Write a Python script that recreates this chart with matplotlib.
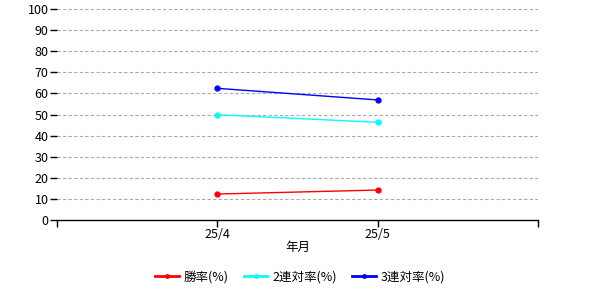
import matplotlib
matplotlib.use("Agg")
import matplotlib.pyplot as plt
from matplotlib.lines import Line2D

plt.rcParams['font.family'] = ['Noto Sans CJK JP', 'DejaVu Sans']

months = ['25/4', '25/5']
win_rate = [12.3, 14.2]
top2_rate = [49.9, 46.3]
top3_rate = [62.4, 56.9]
series_names = ['勝率(%)', '2連対率(%)', '3連対率(%)']
colors = ['#ff0000', '#00ffff', '#0000ff']

fig = plt.figure(figsize=(6, 3), dpi=100)
ax = fig.add_axes([57/600, 80/300, 481/600, 211/300])

xs = [1, 2]
for vals, name, c in zip([win_rate, top2_rate, top3_rate], series_names, colors):
    ax.plot(xs, vals, color=c, lw=1, marker='o', ms=3.5, label=name)

ax.set_xlim(0, 3)
ax.set_ylim(0, 100)
ax.set_yticks(range(0, 101, 10))
ax.set_xticks([0, 1, 2, 3])
ax.set_xticklabels([''] + months + [''])
for y in range(10, 101, 10):
    ax.axhline(y, color='#aaaaaa', lw=0.8, ls=(0, (3, 2)), zorder=0)

for s in ['top', 'right', 'left']:
    ax.spines[s].set_visible(False)
ax.spines['bottom'].set_linewidth(1)
ax.tick_params(axis='both', labelsize=9, length=5, width=1, colors='black', pad=1)
ax.set_xlabel('年月', fontsize=9, labelpad=0)

handles = [Line2D([], [], color=c, lw=2, marker='o', ms=2.5) for c in colors]
fig.legend(handles, series_names, loc='center', bbox_to_anchor=(0.5, 23/300), ncol=3, frameon=False,
           fontsize=9, handlelength=1.9, handletextpad=0.4, columnspacing=1.2)

fig.savefig('out.png', dpi=100)
